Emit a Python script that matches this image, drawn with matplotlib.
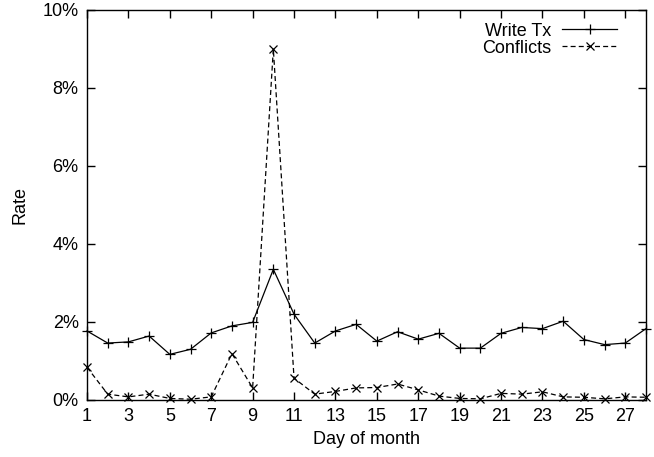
import numpy as np
import matplotlib
matplotlib.use("Agg")
import matplotlib.pyplot as plt
from matplotlib.ticker import FuncFormatter

plt.rcParams['font.family'] = ['Liberation Sans', 'DejaVu Sans']

# data (percent)
days = list(range(1, 29))
write_tx = [1.77, 1.46, 1.49, 1.64, 1.17, 1.30, 1.72, 1.90, 1.99, 3.35,
            2.20, 1.46, 1.77, 1.94, 1.51, 1.75, 1.56, 1.71, 1.33, 1.33,
            1.71, 1.86, 1.83, 2.02, 1.55, 1.42, 1.46, 1.83]
conflicts = [0.84, 0.15, 0.08, 0.15, 0.04, 0.02, 0.08, 1.19, 0.31, 9.00,
             0.56, 0.15, 0.22, 0.31, 0.32, 0.41, 0.26, 0.10, 0.04, 0.03,
             0.17, 0.15, 0.21, 0.08, 0.07, 0.03, 0.08, 0.07]
x_ticks = list(range(1, 29, 2))
y_ticks = [0, 2, 4, 6, 8, 10]

fig = plt.figure(figsize=(6.54, 4.57), dpi=100)
ax = fig.add_axes([87 / 654, 1 - 400 / 457, (646 - 87) / 654, 390 / 457])

ax.plot(days, write_tx, color='black', lw=0.9, marker='+', ms=7, mew=0.9,
        clip_on=False, label='Write Tx')
ax.plot(days, conflicts, color='black', lw=0.9, ls=(0, (4, 2.5)), marker='x',
        ms=6, mew=0.9, clip_on=False, label='Conflicts')

ax.set_xlim(1, 28)
ax.set_ylim(0, 10)
ax.set_xticks(x_ticks)
ax.set_yticks(y_ticks)
ax.yaxis.set_major_formatter(FuncFormatter(lambda v, p: f"{v:.0f}%"))
ax.tick_params(direction='in', length=6, width=1, top=True, right=True,
               labelsize=13, pad=6)
for s in ax.spines.values():
    s.set_linewidth(1)

ax.set_xlabel("Day of month", fontsize=13, labelpad=4)
ax.set_ylabel("Rate", fontsize=13, labelpad=10)

ax.legend(loc='upper right', bbox_to_anchor=(0.97, 1.0), frameon=False,
          markerfirst=False, handlelength=3.0, fontsize=13,
          labelspacing=0.0, handletextpad=0.6, borderaxespad=0.3)

fig.savefig("out.png", dpi=100)
